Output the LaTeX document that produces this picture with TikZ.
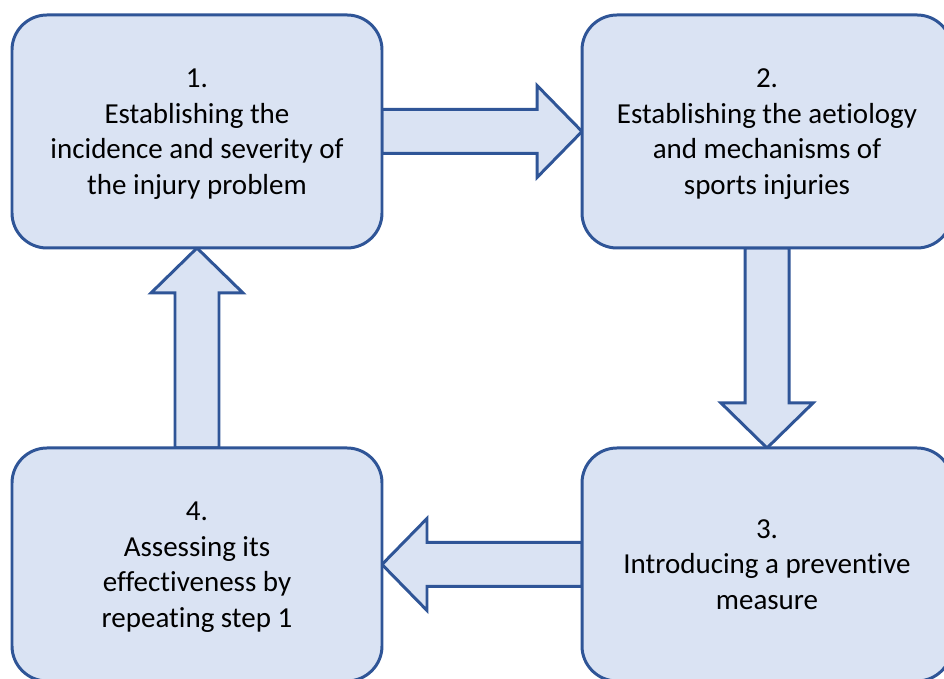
\documentclass[tikz,border=0pt]{standalone}
\usepackage{fontspec}
\setmainfont{Carlito}[Ligatures={NoCommon}]
\usepackage{tikz}
\usetikzlibrary{calc, positioning, backgrounds}
\definecolor{boxline}{RGB}{47, 85, 151}
\definecolor{boxfill}{RGB}{218, 227, 243}
% block arrow from anchor #1 to anchor #2
\newcommand{\flowarrow}[2]{%
	\path ($(#2)!0.9cm!(#1)$) coordinate (base);
	\draw[blockarrow] ($(#1)!0.44cm!90:(#2)$) -- ($(base)!0.44cm!90:(#2)$)
	-- ($(base)!0.92cm!90:(#2)$) -- (#2) -- ($(base)!0.92cm!-90:(#2)$)
	-- ($(base)!0.44cm!-90:(#2)$) -- ($(#1)!0.44cm!-90:(#2)$) -- cycle;}
\begin{document}
\begin{tikzpicture}[
	node distance=4cm and 4cm,
	stepbox/.style={draw=boxline, fill=boxfill, line width=1.7pt,
		rounded corners=0.7cm, minimum width=7.4cm, minimum height=4.66cm,
		outer sep=0pt, align=center, font=\fontsize{16.5}{20.2}\selectfont,
		text depth=-7pt},
	blockarrow/.style={draw=boxline, fill=boxfill, line width=1.7pt, line join=miter}
	]
	\useasboundingbox (0,0) rectangle (18.88,13.58);
	\clip (0,0) rectangle (18.88,13.58);
	\node[stepbox] (incidence) at (3.94,10.95)
	{1.\\Establishing the\\incidence and severity of\\the injury problem};
	\node[stepbox, right=of incidence] (aetiology)
	{2.\\Establishing the aetiology\\and mechanisms of\\sports injuries};
	\node[stepbox, below=of aetiology] (prevention)
	{3.\\Introducing a preventive\\measure};
	\node[stepbox, left=of prevention] (assessment)
	{4.\\Assessing its\\effectiveness by\\repeating step 1};
	\begin{scope}[on background layer]
		\flowarrow{incidence.east}{aetiology.west}
		\flowarrow{aetiology.south}{prevention.north}
		\flowarrow{prevention.west}{assessment.east}
		\flowarrow{assessment.north}{incidence.south}
	\end{scope}
\end{tikzpicture}
\end{document}
